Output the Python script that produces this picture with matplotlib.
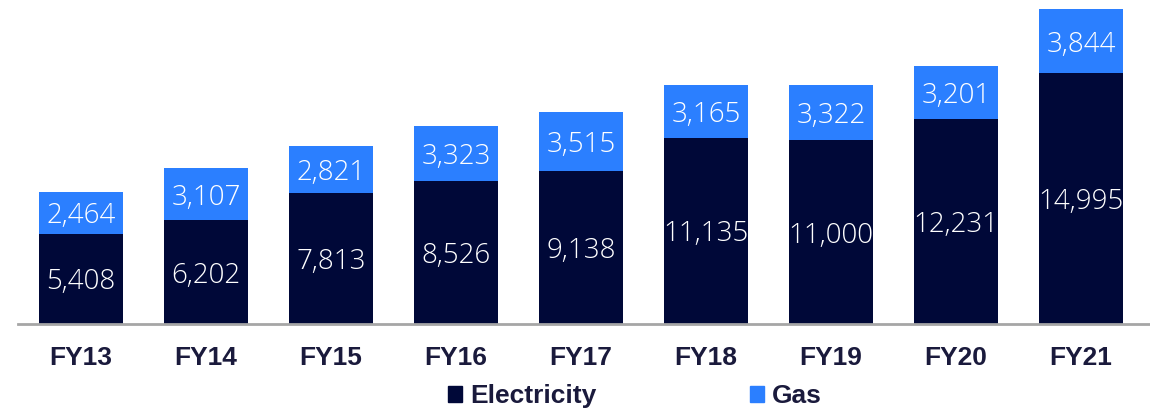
import matplotlib
matplotlib.use("Agg")
import matplotlib.pyplot as plt
from matplotlib.patches import Patch
import numpy as np

categories = ["FY13", "FY14", "FY15", "FY16", "FY17", "FY18", "FY19", "FY20", "FY21"]
electricity = [5408, 6202, 7813, 8526, 9138, 11135, 11000, 12231, 14995]
gas = [2464, 3107, 2821, 3323, 3515, 3165, 3322, 3201, 3844]

navy = "#000838"
blue = "#2b7fff"
text_dark = "#1a1a3c"

fig = plt.figure(figsize=(11.5, 4.08), dpi=100)
ax = fig.add_axes([18/1150, 84/408, 1 - 18/1150, 324/408])

x = np.arange(len(categories))
w = 0.67
ax.bar(x, electricity, width=w, color=navy)
ax.bar(x, gas, width=w, bottom=electricity, color=blue)

lab_font = dict(fontsize=20, family="Open Sans", fontweight="light")
for xi, e, g in zip(x, electricity, gas):
    ax.text(xi, e / 2, f"{e:,}", ha="center", va="center_baseline", color="white", **lab_font)
    ax.text(xi, e + g / 2, f"{g:,}", ha="center", va="center_baseline", color="white", **lab_font)

ax.set_xlim(-0.504, 8.552)
ax.set_ylim(0, 19377)
for s in ["top", "right", "left"]:
    ax.spines[s].set_visible(False)
ax.spines["bottom"].set_color("#a6a6a6")
ax.spines["bottom"].set_linewidth(2)
ax.set_yticks([])
ax.set_xticks(x)
ax.set_xticklabels(categories, fontsize=19, fontweight="bold", family="Liberation Sans", color=text_dark)
ax.tick_params(axis="x", length=0, pad=16)

handles = [Patch(color=navy, label="Electricity"), Patch(color=blue, label="Gas")]
fig.legend(handles=handles, loc="center", bbox_to_anchor=(635/1150, 1 - 396/408), ncol=2,
           frameon=False, prop={"family": "Liberation Sans", "weight": "bold", "size": 19},
           handlelength=0.55, handleheight=0.55, handletextpad=0.3, columnspacing=5.8,
           labelcolor=text_dark, borderpad=0)

fig.savefig("out.png", dpi=100)
